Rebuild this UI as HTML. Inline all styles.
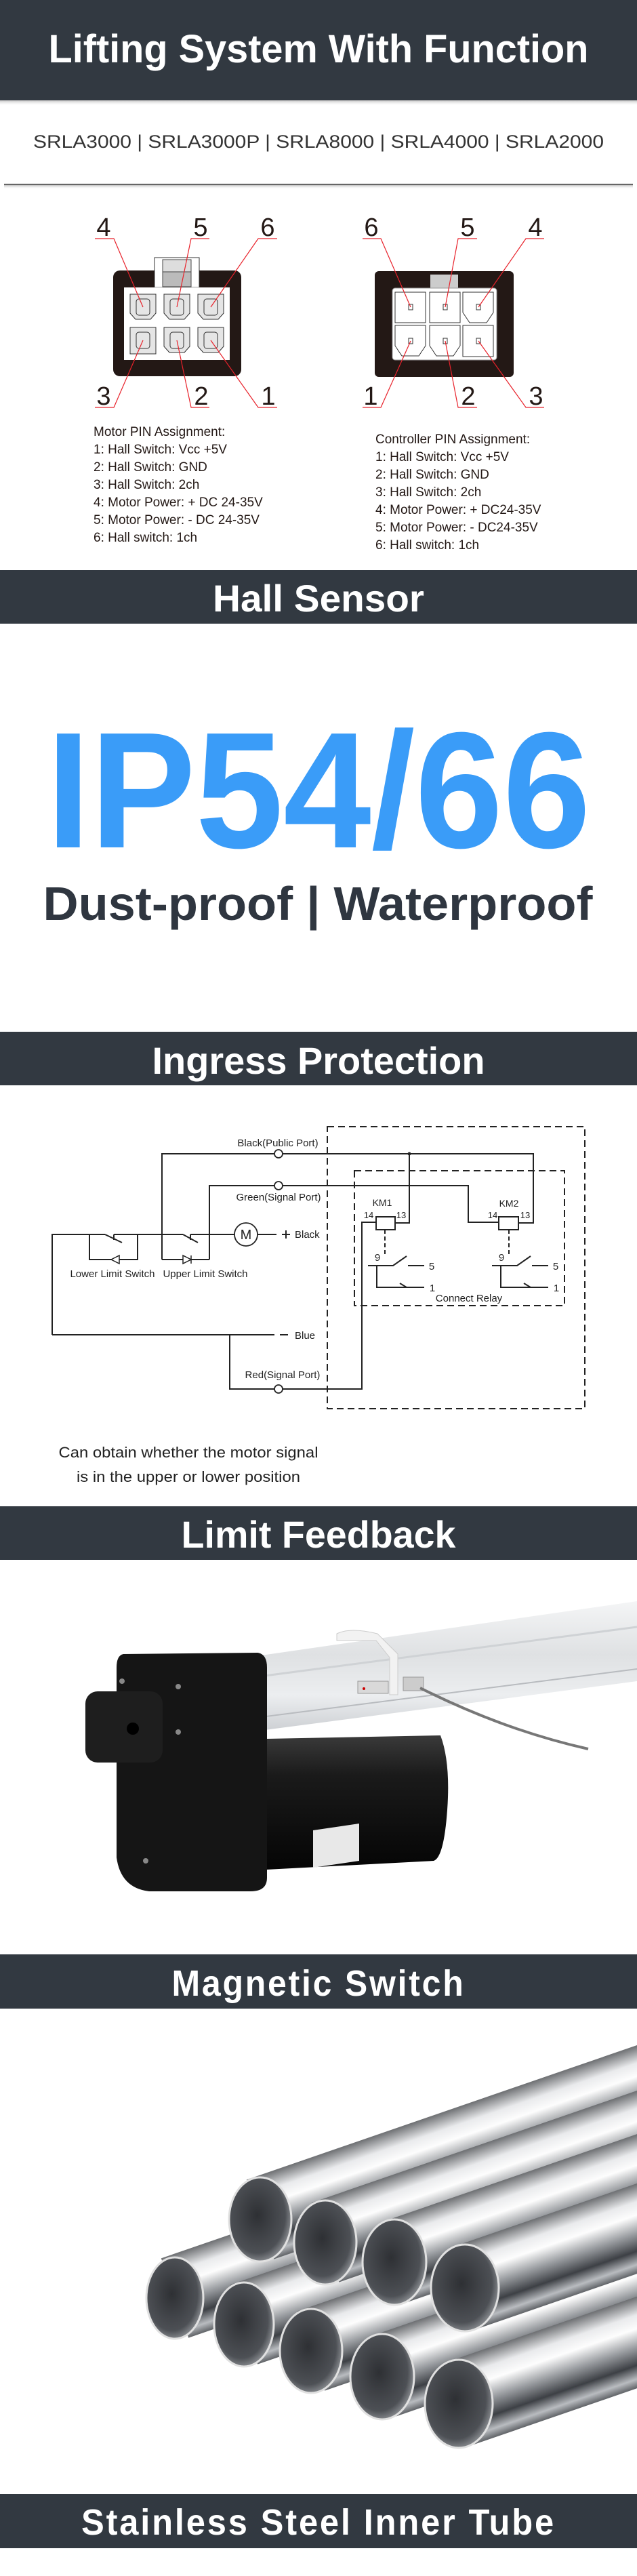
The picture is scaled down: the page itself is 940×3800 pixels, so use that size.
<!DOCTYPE html>
<html><head><meta charset="utf-8">
<style>
html,body{margin:0;padding:0;background:#fff;}
body{width:940px;height:3800px;position:relative;overflow:hidden;font-family:"Liberation Sans",sans-serif;}
svg{position:absolute;left:0;top:0;}
</style></head>
<body>
<svg width="940" height="3800" viewBox="0 0 940 3800" xmlns="http://www.w3.org/2000/svg" font-family="Liberation Sans, sans-serif">
<defs>
<linearGradient id="hs" x1="0" y1="0" x2="0" y2="1"><stop offset="0" stop-color="#999" stop-opacity=".6"/><stop offset="1" stop-color="#fff" stop-opacity="0"/></linearGradient>
<linearGradient id="tube" x1="0" y1="0" x2="0" y2="1">
<stop offset="0" stop-color="#6d6f72"/><stop offset=".2" stop-color="#e9eaec"/><stop offset=".35" stop-color="#fdfdfd"/><stop offset=".55" stop-color="#9a9da1"/><stop offset=".75" stop-color="#3d4045"/><stop offset=".9" stop-color="#b9bcc0"/><stop offset="1" stop-color="#606367"/></linearGradient>
<radialGradient id="inner" cx=".45" cy=".45" r=".6"><stop offset="0" stop-color="#2e3034"/><stop offset=".75" stop-color="#4d5055"/><stop offset="1" stop-color="#9a9da1"/></radialGradient>
<linearGradient id="rail" x1="0" y1="0" x2="0" y2="1"><stop offset="0" stop-color="#f4f5f6"/><stop offset=".4" stop-color="#dfe1e3"/><stop offset=".7" stop-color="#eceef0"/><stop offset="1" stop-color="#c9ccd0"/></linearGradient>
<linearGradient id="cyl" x1="0" y1="0" x2="0" y2="1"><stop offset="0" stop-color="#3a3a3a"/><stop offset=".3" stop-color="#1a1a1a"/><stop offset="1" stop-color="#050505"/></linearGradient>
</defs>

<!-- Header -->
<rect x="0" y="0" width="940" height="148" fill="#323941"/>
<rect x="0" y="148" width="940" height="8" fill="url(#hs)"/>
<text x="470" y="92" text-anchor="middle" font-size="58" font-weight="bold" fill="#fff" textLength="797" lengthAdjust="spacingAndGlyphs">Lifting System With Function</text>
<text x="470" y="218" text-anchor="middle" font-size="27" fill="#333" textLength="842" lengthAdjust="spacingAndGlyphs">SRLA3000 | SRLA3000P | SRLA8000 | SRLA4000 | SRLA2000</text>
<rect x="6" y="271" width="928" height="2" fill="#666"/>
<rect x="6" y="273" width="928" height="6" fill="url(#hs)"/>

<!-- Left connector -->
<rect x="167" y="399" width="189" height="156" rx="10" fill="#231815"/>
<rect x="228" y="380" width="66" height="44" fill="#fff" stroke="#333" stroke-width="1"/>
<rect x="240" y="383" width="42" height="18" fill="#ddd" stroke="#444" stroke-width="1"/>
<rect x="240" y="401" width="42" height="22" fill="#bbb" stroke="#444" stroke-width="1"/>
<rect x="183" y="424" width="156" height="107" fill="#fff"/>
<g fill="#e5e5e5" stroke="#333" stroke-width="1">
<path d="M192 434h38v28l-8 9h-22l-8-9z"/><path d="M242 434h38v28l-8 9h-22l-8-9z"/><path d="M292 434h38v28l-8 9h-22l-8-9z"/>
<path d="M192 483h38v39h-38z"/><path d="M242 483h38v28l-8 9h-22l-8-9z"/><path d="M292 483h38v28l-8 9h-22l-8-9z"/>
</g>
<g fill="none" stroke="#333" stroke-width="1">
<rect x="201" y="441" width="20" height="24" rx="4"/><rect x="251" y="441" width="20" height="24" rx="4"/><rect x="301" y="441" width="20" height="24" rx="4"/>
<rect x="201" y="490" width="20" height="24" rx="4"/><rect x="251" y="490" width="20" height="24" rx="4"/><rect x="301" y="490" width="20" height="24" rx="4"/>
</g>
<!-- Right connector -->
<rect x="553" y="400" width="205" height="156" rx="6" fill="#231815"/>
<rect x="635" y="405" width="41" height="20" fill="#ccc"/>
<rect x="579" y="425" width="154" height="106" rx="4" fill="#fff" stroke="#999"/>
<g fill="#fff" stroke="#333" stroke-width="1">
<rect x="583" y="431" width="45" height="45"/><rect x="634" y="431" width="45" height="45"/><path d="M683 431h45v30l-10 15h-25l-10-15z"/>
<path d="M583 480h45v30l-10 15h-25l-10-15z"/><path d="M634 480h45v30l-10 15h-25l-10-15z"/><rect x="683" y="480" width="45" height="46"/>
<rect x="603" y="449" width="6" height="8"/><rect x="654" y="449" width="6" height="8"/><rect x="703" y="449" width="6" height="8"/>
<rect x="603" y="499" width="6" height="8"/><rect x="654" y="499" width="6" height="8"/><rect x="703" y="499" width="6" height="8"/>
</g>
<!-- leaders -->
<g stroke="#e8212a" stroke-width="1.2" fill="none">
<path d="M140 352h28L211 453"/><path d="M309 352h-27L261 453"/><path d="M409 352h-28L311 453"/>
<path d="M140 601h28L211 502"/><path d="M309 601h-27L261 502"/><path d="M409 601h-28L311 502"/>
<path d="M535 352h27L606 453"/><path d="M704 352h-28L657 453"/><path d="M803 352h-27L706 453"/>
<path d="M535 601h27L606 503"/><path d="M704 601h-28L657 503"/><path d="M803 601h-27L706 503"/>
</g>
<g font-size="38" fill="#231815" text-anchor="middle">
<text x="153" y="348">4</text><text x="296" y="348">5</text><text x="395" y="348">6</text>
<text x="153" y="597">3</text><text x="297" y="597">2</text><text x="396" y="597">1</text>
<text x="548" y="348">6</text><text x="690" y="348">5</text><text x="790" y="348">4</text>
<text x="547" y="597">1</text><text x="691" y="597">2</text><text x="791" y="597">3</text>
</g>
<g font-size="19" fill="#231815">
<text x="138" y="643">Motor PIN Assignment:</text>
<text x="138" y="669">1: Hall Switch: Vcc +5V</text>
<text x="138" y="695">2: Hall Switch: GND</text>
<text x="138" y="721">3: Hall Switch: 2ch</text>
<text x="138" y="747">4: Motor Power: + DC 24-35V</text>
<text x="138" y="773">5: Motor Power: - DC 24-35V</text>
<text x="138" y="799">6: Hall switch: 1ch</text>
<text x="554" y="654">Controller PIN Assignment:</text>
<text x="554" y="680">1: Hall Switch: Vcc +5V</text>
<text x="554" y="706">2: Hall Switch: GND</text>
<text x="554" y="732">3: Hall Switch: 2ch</text>
<text x="554" y="758">4: Motor Power: + DC24-35V</text>
<text x="554" y="784">5: Motor Power: - DC24-35V</text>
<text x="554" y="810">6: Hall switch: 1ch</text>
</g>

<!-- Hall Sensor bar -->
<rect x="0" y="841" width="940" height="79" fill="#323941"/>
<text x="470" y="902" text-anchor="middle" font-size="56" font-weight="bold" fill="#fff" textLength="312" lengthAdjust="spacingAndGlyphs">Hall Sensor</text>

<!-- IP -->
<text x="470" y="1250" text-anchor="middle" font-size="244" font-weight="bold" fill="#3a9cf8" textLength="803" lengthAdjust="spacingAndGlyphs">IP54/66</text>
<text x="469" y="1357" text-anchor="middle" font-size="70" font-weight="bold" fill="#2f3640" textLength="811" lengthAdjust="spacingAndGlyphs">Dust-proof | Waterproof</text>

<!-- Ingress bar -->
<rect x="0" y="1522" width="940" height="79" fill="#323941"/>
<text x="470" y="1584" text-anchor="middle" font-size="56" font-weight="bold" fill="#fff" textLength="491" lengthAdjust="spacingAndGlyphs">Ingress Protection</text>

<!-- Circuit -->
<g stroke="#222" stroke-width="2" fill="none">
<rect x="483" y="1662" width="380" height="416" stroke-dasharray="10,6"/>
<rect x="523" y="1727" width="310" height="199" stroke-dasharray="10,6"/>
<path d="M239 1858V1702H787V1804H765"/>
<path d="M604 1702V1804H583"/>
<path d="M309 1858V1749H691V1803H736"/>
<path d="M77 1969V1821H155M155 1821L180 1833M168 1821H239M168 1821v8"/>
<path d="M132 1821V1858H203V1821"/>
<path d="M239 1821H270M270 1821L292 1833M281 1821H346M281 1821v8"/>
<path d="M239 1858H309"/>
<path d="M380 1821H408"/>
<path d="M77 1969H405"/>
<path d="M339 1969V2049H534V1803H555"/>
<rect x="555" y="1795" width="28" height="19"/>
<rect x="736" y="1795" width="29" height="19"/>
<path d="M568 1814V1852M751 1814V1852" stroke-dasharray="6,4"/>
<path d="M543 1867H580L600 1853M602 1867H626M556 1867V1899H600L590 1893M600 1899H626"/>
<path d="M726 1867H763L783 1853M785 1867H809M739 1867V1899H783L773 1893M783 1899H809"/>
<path d="M416 1821h12M422 1815v12"/>
<path d="M413 1969h12"/>
</g>
<g fill="#fff" stroke="#222" stroke-width="1.8">
<circle cx="363" cy="1821" r="17"/>
<circle cx="411" cy="1702" r="6"/><circle cx="411" cy="1749" r="6"/><circle cx="411" cy="2049" r="6"/>
</g>
<circle cx="604" cy="1702" r="2.5" fill="#222"/>
<path d="M164 1858l12-6v12zM176 1852v12" fill="#fff" stroke="#222" stroke-width="1.5"/>
<path d="M282 1858l-12-6v12zM282 1852v12" fill="#fff" stroke="#222" stroke-width="1.5"/>
<g font-size="15" fill="#222">
<text x="363" y="1828" text-anchor="middle" font-size="20">M</text>
<text x="410" y="1691" text-anchor="middle">Black(Public Port)</text>
<text x="411" y="1771" text-anchor="middle">Green(Signal Port)</text>
<text x="417" y="2033" text-anchor="middle">Red(Signal Port)</text>
<text x="435" y="1826">Black</text>
<text x="435" y="1975">Blue</text>
<text x="166" y="1884" text-anchor="middle">Lower Limit Switch</text>
<text x="303" y="1884" text-anchor="middle">Upper Limit Switch</text>
<text x="692" y="1920" text-anchor="middle">Connect Relay</text>
<text x="564" y="1779" text-anchor="middle" font-size="14">KM1</text>
<text x="751" y="1780" text-anchor="middle" font-size="14">KM2</text>
<text x="544" y="1797" text-anchor="middle" font-size="13">14</text>
<text x="592" y="1797" text-anchor="middle" font-size="13">13</text>
<text x="727" y="1797" text-anchor="middle" font-size="13">14</text>
<text x="775" y="1797" text-anchor="middle" font-size="13">13</text>
<text x="557" y="1860" text-anchor="middle">9</text><text x="740" y="1860" text-anchor="middle">9</text>
<text x="637" y="1873" text-anchor="middle">5</text><text x="820" y="1873" text-anchor="middle">5</text>
<text x="638" y="1905" text-anchor="middle">1</text><text x="821" y="1905" text-anchor="middle">1</text>
</g>
<g font-size="22" fill="#222" text-anchor="middle">
<text x="278" y="2150" textLength="383" lengthAdjust="spacingAndGlyphs">Can obtain whether the motor signal</text>
<text x="278" y="2186" textLength="330" lengthAdjust="spacingAndGlyphs">is in the upper or lower position</text>
</g>

<!-- Limit Feedback bar -->
<rect x="0" y="2222" width="940" height="79" fill="#323941"/>
<text x="470" y="2283" text-anchor="middle" font-size="56" font-weight="bold" fill="#fff" textLength="405" lengthAdjust="spacingAndGlyphs">Limit Feedback</text>

<!-- Actuator photo -->
<path d="M330 2450L940 2362V2480L330 2560Z" fill="url(#rail)"/>
<path d="M330 2480L940 2400" stroke="#cfd2d5" stroke-width="3"/>
<path d="M330 2540L940 2462" stroke="#b8bbbf" stroke-width="2"/>
<path d="M497 2410q20 -10 60 0l30 30 0 60 -12 0 0 -55 -20 -25 -58 0z" fill="#f2f2f2" stroke="#ccc"/>
<rect x="528" y="2480" width="45" height="18" fill="#d9d9d9" stroke="#999"/>
<rect x="595" y="2474" width="30" height="20" fill="#ccc" stroke="#999"/>
<circle cx="537" cy="2491" r="2" fill="#c00"/>
<path d="M620 2490C700 2530 780 2560 868 2580" stroke="#777" stroke-width="4" fill="none"/>
<path d="M393 2565L650 2560Q665 2600 660 2670Q655 2740 640 2745L393 2758Z" fill="url(#cyl)"/>
<path d="M462 2700L530 2690V2745L462 2755Z" fill="#e8e8e8"/>
<path d="M182 2440L380 2438Q394 2440 394 2460V2770Q394 2790 370 2790H220Q178 2785 172 2740V2460Q172 2442 182 2440Z" fill="#151515"/>
<rect x="126" y="2495" width="114" height="105" rx="18" fill="#1e1e1e"/>
<circle cx="196" cy="2550" r="9" fill="#000"/>
<circle cx="180" cy="2480" r="4" fill="#888"/><circle cx="263" cy="2488" r="4" fill="#888"/><circle cx="263" cy="2555" r="4" fill="#888"/><circle cx="215" cy="2745" r="4" fill="#888"/>

<!-- Magnetic Switch bar -->
<rect x="0" y="2883" width="940" height="80" fill="#323941"/>
<text x="470" y="2944" text-anchor="middle" font-size="54" font-weight="bold" fill="#fff" textLength="433" lengthAdjust="spacingAndGlyphs" letter-spacing="3">Magnetic Switch</text>

<!-- Tubes: front row bodies first, then back row bodies+openings, then front openings -->
<g>
<g transform="rotate(-19 258 3390)"><rect x="258" y="3328" width="800" height="124" fill="url(#tube)"/></g>
<g transform="rotate(-19 360 3429)"><rect x="360" y="3367" width="800" height="124" fill="url(#tube)"/></g>
<g transform="rotate(-19 459 3468)"><rect x="459" y="3406" width="800" height="124" fill="url(#tube)"/></g>
<g transform="rotate(-19 564 3506)"><rect x="564" y="3444" width="800" height="124" fill="url(#tube)"/></g>
<g transform="rotate(-19 677 3546)"><rect x="677" y="3482" width="800" height="128" fill="url(#tube)"/></g>

<g transform="rotate(-19 384 3274)"><rect x="384" y="3212" width="800" height="124" fill="url(#tube)"/></g>
<ellipse cx="384" cy="3274" rx="46" ry="62" fill="url(#inner)" stroke="#e0e0e0" stroke-width="3"/>
<g transform="rotate(-19 480 3308)"><rect x="480" y="3246" width="800" height="124" fill="url(#tube)"/></g>
<ellipse cx="480" cy="3308" rx="46" ry="62" fill="url(#inner)" stroke="#e0e0e0" stroke-width="3"/>
<g transform="rotate(-19 582 3337)"><rect x="582" y="3275" width="800" height="124" fill="url(#tube)"/></g>
<ellipse cx="582" cy="3337" rx="47" ry="63" fill="url(#inner)" stroke="#e0e0e0" stroke-width="3"/>
<g transform="rotate(-19 686 3375)"><rect x="686" y="3312" width="800" height="126" fill="url(#tube)"/></g>
<ellipse cx="686" cy="3375" rx="50" ry="64" fill="url(#inner)" stroke="#e0e0e0" stroke-width="3"/>

<ellipse cx="258" cy="3390" rx="42" ry="60" fill="url(#inner)" stroke="#e0e0e0" stroke-width="3"/>
<ellipse cx="360" cy="3429" rx="44" ry="62" fill="url(#inner)" stroke="#e0e0e0" stroke-width="3"/>
<ellipse cx="459" cy="3468" rx="46" ry="62" fill="url(#inner)" stroke="#e0e0e0" stroke-width="3"/>
<ellipse cx="564" cy="3506" rx="47" ry="63" fill="url(#inner)" stroke="#e0e0e0" stroke-width="3"/>
<ellipse cx="677" cy="3546" rx="50" ry="65" fill="url(#inner)" stroke="#e0e0e0" stroke-width="3"/>
</g>

<!-- Stainless bar -->
<rect x="0" y="3679" width="940" height="80" fill="#323941"/>
<text x="470" y="3739" text-anchor="middle" font-size="54" font-weight="bold" fill="#fff" textLength="700" lengthAdjust="spacingAndGlyphs" letter-spacing="3">Stainless Steel Inner Tube</text>
</svg>
</body></html>
